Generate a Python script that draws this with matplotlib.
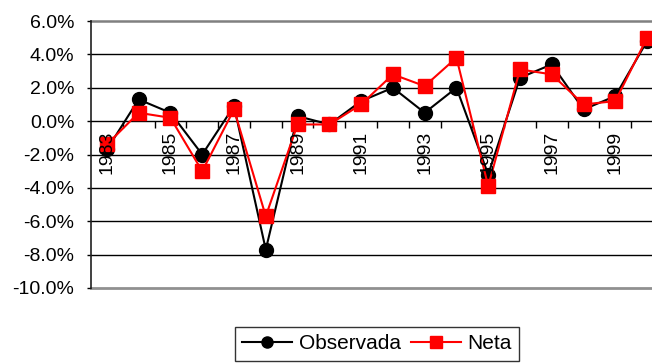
import matplotlib
matplotlib.use("Agg")
import matplotlib.pyplot as plt
import matplotlib.transforms as mtransforms
from matplotlib.ticker import FuncFormatter, MultipleLocator

plt.rcParams['font.family'] = ['Liberation Sans', 'DejaVu Sans']

years = list(range(1983, 2001))
observada = [-1.7, 1.3, 0.5, -2.0, 0.9, -7.7, 0.3, -0.2, 1.2, 2.0, 0.5, 2.0, -3.2, 2.6, 3.4, 0.7, 1.5, 4.8]
neta = [-1.4, 0.5, 0.2, -3.0, 0.7, -5.7, -0.2, -0.2, 1.0, 2.8, 2.1, 3.8, -3.9, 3.1, 2.8, 1.0, 1.2, 5.0]

FS = 14

fig = plt.figure(figsize=(6.52, 3.64), dpi=100)
# plot area runs a bit past the right edge of the figure
ax = fig.add_axes([91 / 652, 1 - 288 / 364, 572 / 652, 267 / 364])

x = list(range(len(years)))
ax.plot(x, observada, color='black', lw=1.5, marker='o', ms=10, label='Observada', zorder=3)
ax.plot(x, neta, color='#ff0000', lw=1.5, marker='s', ms=10.5, mec='#ff0000', label='Neta', zorder=4)

ax.set_xlim(-0.5, len(years) - 0.5)
ax.set_ylim(-10, 6)
ax.yaxis.set_major_locator(MultipleLocator(2))
ax.yaxis.set_major_formatter(FuncFormatter(lambda v, p: f"{v:.1f}%"))
ax.tick_params(axis='y', direction='out', length=3, width=1, pad=9, labelsize=FS, colors='black')

# category axis sits on the zero line, ticks between categories
ax.spines['bottom'].set_position(('data', 0))
ax.spines['bottom'].set_linewidth(1)
ax.set_xticks([i + 0.5 for i in x[:-1]])
ax.set_xticklabels([])
ax.tick_params(axis='x', direction='out', length=5, width=1, colors='black')

for s in ['top', 'right']:
    ax.spines[s].set_visible(False)
ax.spines['left'].set_color('#202020')
ax.spines['left'].set_linewidth(1.2)

for v in range(-8, 6, 2):
    if v != 0:
        ax.axhline(v, color='black', lw=1, zorder=1)
ax.axhline(6, color='#808080', lw=1.8, zorder=1, clip_on=False)
ax.axhline(-10, color='#909090', lw=2, zorder=1, clip_on=False)

# year labels every other year, rotated, just under the zero line
trans = ax.transData + mtransforms.ScaledTranslation(0, -10 / 100, fig.dpi_scale_trans)
for i in x[::2]:
    ax.text(i, 0, str(years[i]), rotation=90, ha='center', va='top', fontsize=FS,
            transform=trans, zorder=10, clip_on=False)

leg = fig.legend(loc='upper left', bbox_to_anchor=(235 / 652, 1 - 327 / 364), ncol=2,
                 fontsize=15, frameon=True, fancybox=False, edgecolor='black',
                 handlelength=2.4, handletextpad=0.3, columnspacing=0.5,
                 borderpad=0.35, borderaxespad=0, markerscale=0.8)
leg.get_frame().set_linewidth(1)

fig.savefig('out.png', dpi=100)
